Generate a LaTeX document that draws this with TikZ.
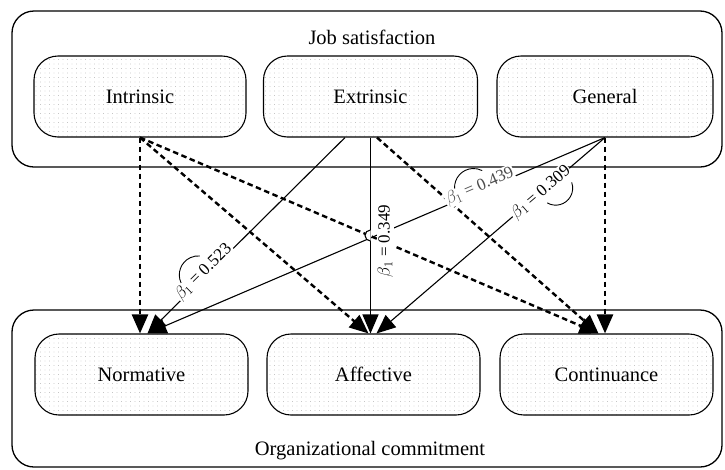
\documentclass[tikz,border=0pt]{standalone}
\usepackage{fontspec}
\setmainfont{Liberation Serif}
\usetikzlibrary{arrows.meta,calc,patterns.meta}

\tikzset{
  group/.style={draw, line width=1.3pt, rounded corners=22pt,
    minimum width=710pt, inner sep=0pt},
  factor/.style={draw, line width=1.1pt, rounded corners=24pt,
    minimum height=81pt, inner sep=0pt,
    pattern={Dots[distance=4.5pt,radius=0.45pt]}, pattern color=black!35,
    font=\fontsize{20.5}{24}\selectfont},
  heading/.style={font=\fontsize{20.5}{24}\selectfont, inner sep=0pt},
  weak/.style={line width=2.4pt, dash pattern=on 5.5pt off 3.5pt,
    -{Triangle[length=19pt,width=16pt]}},
  strong/.style={line width=1.1pt, -{Triangle[length=19pt,width=16pt]}},
  beta/.style={font=\fontsize{17}{19}\selectfont, fill=white, inner sep=1pt},
  bracket/.style={line width=0.9pt}
}

\begin{document}
\begin{tikzpicture}[x=1pt, y=-1pt]
\useasboundingbox (0,0) rectangle (725,469);

% outer groups
\node[group, minimum height=156pt] (js) at (367,89) {};
\node[group, minimum height=157pt] (oc) at (367,388.5) {};
\node[heading] (jst) at (372,37) {Job satisfaction};
\node[heading] (oct) at (370,451) {Organizational commitment};

% job satisfaction facets
\node[factor, minimum width=212pt] (intr) at (140,96.5) {Intrinsic};
\node[factor, minimum width=214pt] (extr) at (370.5,96.5) {Extrinsic};
\node[factor, minimum width=216pt] (gen)  at (605,96.5) {General};

% commitment components
\node[factor, minimum width=213pt] (norm) at (141.5,374.5) {Normative};
\node[factor, minimum width=213pt] (aff)  at (373.5,374.5) {Affective};
\node[factor, minimum width=213pt] (cont) at (606.5,374.5) {Continuance};

% non-significant paths
\draw[weak] (intr.south) -- (intr.south |- norm.north);
\draw[weak] (intr.south) -- ($(aff.north)+(-5,0)$);
\draw[weak] (intr.south) -- ($(cont.north)+(-8,0)$);
\draw[weak] ($(extr.south)+(6.5,0)$) -- ($(cont.north)+(-8,0)$);
\draw[weak] (gen.south) -- (gen.south |- cont.north);

% significant paths
\draw[strong] ($(extr.south)+(-25.5,0)$) -- node[beta, pos=0.7, sloped, anchor=base] (b1) {$\beta_1$ = 0.523} ($(norm.north)+(6,0)$);
\draw[strong] (gen.south) -- node[beta, pos=0.27, sloped, anchor=base, text=black!70] (b3) {$\beta_1$ = 0.439} ($(norm.north)+(6,0)$);
\draw[strong] (gen.south) -- node[beta, pos=0.28, sloped] (b4) {$\beta_1$ = 0.309} ($(aff.north)+(3,0)$);
\draw[strong] (extr.south) -- (extr.south |- aff.north);
\node[beta, rotate=90, anchor=north] (b2) at ($(extr.south |- 0,241)+(6,0)$) {$\beta_1$ = 0.349};

% curved brackets beside the coefficients
\begin{scope}[x=1pt, y=1pt, shift={(b1.center)}, rotate=45]
  \draw[bracket] (-24,8) arc[start angle=160, end angle=40, radius=19];
\end{scope}
\begin{scope}[x=1pt, y=1pt, shift={(b3.center)}, rotate=23]
  \draw[bracket] (-24,8) arc[start angle=160, end angle=40, radius=19];
\end{scope}
\begin{scope}[x=1pt, y=1pt, shift={(b4.center)}, rotate=40]
  \draw[bracket] (-2,-12) arc[start angle=200, end angle=340, radius=17];
\end{scope}
% jump where the General path crosses the Extrinsic path
\draw[line width=1.1pt, fill=white] ($(extr.south |- 0,230)$) arc[start angle=270, end angle=90, radius=5.5];
\end{tikzpicture}
\end{document}
